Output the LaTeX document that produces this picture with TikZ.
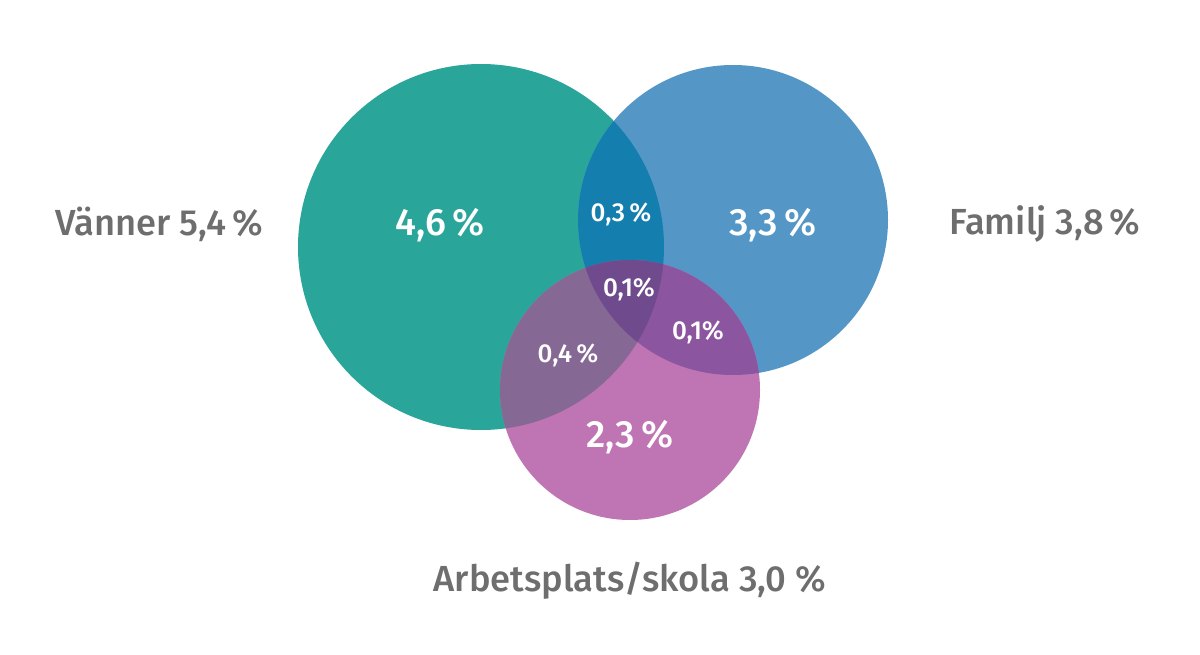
\documentclass[tikz,border=0pt]{standalone}
\usepackage{fontspec}
\setmainfont{Fira Sans}[BoldFont={Fira Sans Medium}]
\definecolor{cg}{HTML}{2AA59A}
\definecolor{cb}{HTML}{5497C7}
\definecolor{cp}{HTML}{BF75B3}
\definecolor{cgb}{HTML}{147FAF}
\definecolor{cgp}{HTML}{866895}
\definecolor{cbp}{HTML}{8C559F}
\definecolor{cgbp}{HTML}{6F4B8D}
\definecolor{lbl}{HTML}{6E6E6E}
\tikzset{
  biglbl/.style={text=white,font=\fontsize{38}{38}\selectfont\bfseries,inner sep=0pt},
  smalllbl/.style={text=white,font=\fontsize{26}{26}\selectfont\bfseries,inner sep=0pt},
  outlbl/.style={text=lbl,font=\fontsize{36.3}{36.3}\selectfont\bfseries,inner sep=0pt}
}
\begin{document}
\begin{tikzpicture}[x=1pt,y=-1pt]
\useasboundingbox (0,0) rectangle (1200,655);
\def\G{(481,247) circle (183)}
\def\B{(733,220) circle (155)}
\def\P{(630,390) circle (130)}
\fill[cg] \G;
\fill[cb] \B;
\fill[cp] \P;
\begin{scope}\clip \G; \fill[cgb] \B; \fill[cgp] \P; \end{scope}
\begin{scope}\clip \B; \fill[cbp] \P; \end{scope}
\begin{scope}\clip \G; \clip \B; \fill[cgbp] \P; \end{scope}
\node[biglbl] (g) at (440,225) {4,6\,\%};
\node[biglbl] (b) at (773,225) {3,3\,\%};
\node[biglbl] (p) at (630,437) {2,3\,\%};
\node[smalllbl] (gb) at (621,214) {0,3\,\%};
\node[smalllbl] (gbp) at (629,289) {0,1\%};
\node[smalllbl] (bp) at (698,332) {0,1\%};
\node[smalllbl] (gp) at (568,355) {0,4\,\%};
\node[outlbl] (lg) at (159,224) {Vänner 5,4\,\%};
\node[outlbl] (lb) at (1045,224) {Familj 3,8\,\%};
\node[outlbl] (lp) at (630,581) {Arbetsplats/skola 3,0 \%};
\end{tikzpicture}
\end{document}
